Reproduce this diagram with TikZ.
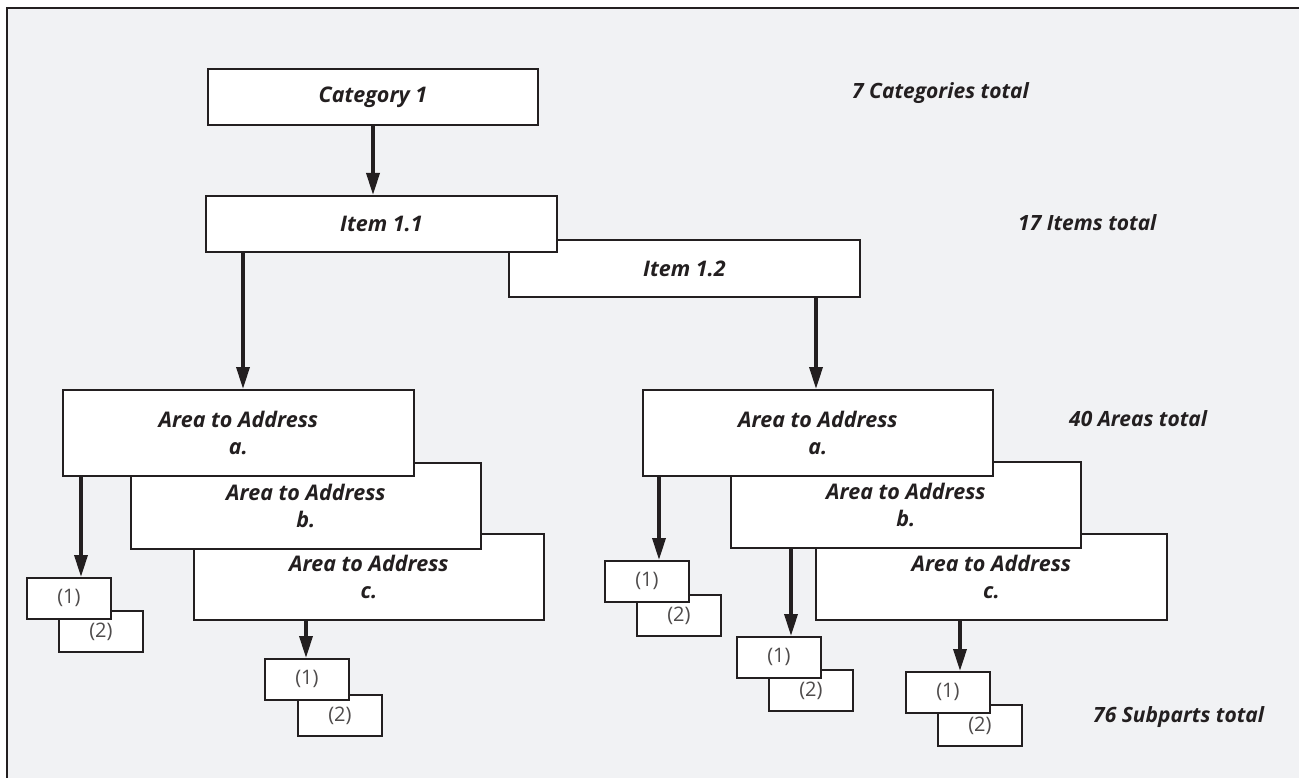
\documentclass[tikz,border=0pt]{standalone}
\usepackage{fontspec}
\setmainfont{Open Sans}
\usetikzlibrary{arrows.meta}
\definecolor{ink}{HTML}{231F20}
\definecolor{panel}{HTML}{F1F2F4}
\tikzset{
  box/.style={draw=ink, line width=1.8pt, fill=white, anchor=north west,
    inner sep=0pt, align=center, text=ink,
    font=\fontsize{21.5}{27}\selectfont\bfseries\itshape},
  subbox/.style={draw=ink, line width=1.8pt, fill=white, anchor=north west,
    inner sep=0pt, minimum width=84pt, minimum height=41pt, text=ink!80,
    font=\fontsize{20}{22}\selectfont},
  total/.style={anchor=west, inner sep=0pt, text=ink,
    font=\fontsize{21}{24}\selectfont\bfseries\itshape},
  link/.style={draw=ink, line width=3.5pt, -{Triangle[length=22pt,width=13pt]}},
}
\begin{document}
\begin{tikzpicture}[x=1pt,y=-1pt]
\useasboundingbox (0,0) rectangle (1299,778);
% panel with its frame on the left and top
\fill[panel] (7,8) rectangle (1299,778);
\draw[ink, line width=2.6pt] (7,778) -- (7,8) -- (1299,8);

% category and items
\node[box, minimum width=330pt, minimum height=56pt] (cat) at (207,68) {Category 1};
\node[box, minimum width=351pt, minimum height=57pt] (item12) at (508,239) {Item 1.2};
\node[box, minimum width=351pt, minimum height=56pt] (item11) at (205,195) {Item 1.1};

% areas under item 1.1
\node[box, minimum width=350pt, minimum height=86pt] (cL) at (193,533) {Area to Address\\c.};
\node[box, minimum width=350pt, minimum height=86pt] (bL) at (130,462) {Area to Address\\b.};
\node[box, minimum width=351pt, minimum height=86pt] (aL) at (62,389) {Area to Address\\a.};

% areas under item 1.2
\node[box, minimum width=351pt, minimum height=86pt] (cR) at (815,533) {Area to Address\\c.};
\node[box, minimum width=350pt, minimum height=86pt] (bR) at (730,461) {Area to Address\\b.};
\node[box, minimum width=350pt, minimum height=86pt] (aR) at (642,389) {Area to Address\\a.};

% subparts
\node[subbox] (sLa2) at (58,610) {(2)};
\node[subbox] (sLa1) at (26,577) {(1)};
\node[subbox] (sLc2) at (297,694) {(2)};
\node[subbox] (sLc1) at (264,658) {(1)};
\node[subbox] (sRa2) at (636,594) {(2)};
\node[subbox] (sRa1) at (604,560) {(1)};
\node[subbox] (sRb2) at (768,669) {(2)};
\node[subbox] (sRb1) at (736,636) {(1)};
\node[subbox] (sRc2) at (937,704) {(2)};
\node[subbox] (sRc1) at (905,671) {(1)};

% totals
\node[total] (tcat) at (852,93) {7 Categories total};
\node[total] (titem) at (1018,223) {17 Items total};
\node[total] (tarea) at (1069,419) {40 Areas total};
\node[total] (tsub) at (1093,717) {76 Subparts total};

% connectors
\draw[link] ([xshift=166pt]cat.south west) -- ([xshift=166pt]cat.south west |- item11.north);
\draw[link] ([xshift=38pt]item11.south west) -- ([xshift=38pt]item11.south west |- aL.north);
\draw[link] ([xshift=308pt]item12.south west) -- ([xshift=308pt]item12.south west |- aR.north);
\draw[link] ([xshift=19pt]aL.south west) -- ([xshift=19pt]aL.south west |- sLa1.north);
\draw[link] ([xshift=113pt]cL.south west) -- ([xshift=113pt]cL.south west |- sLc1.north);
\draw[link] ([xshift=17pt]aR.south west) -- ([xshift=17pt]aR.south west |- sRa1.north);
\draw[link] ([xshift=61pt]bR.south west) -- ([xshift=61pt]bR.south west |- sRb1.north);
\draw[link] ([xshift=145pt]cR.south west) -- ([xshift=145pt]cR.south west |- sRc1.north);
\end{tikzpicture}
\end{document}
